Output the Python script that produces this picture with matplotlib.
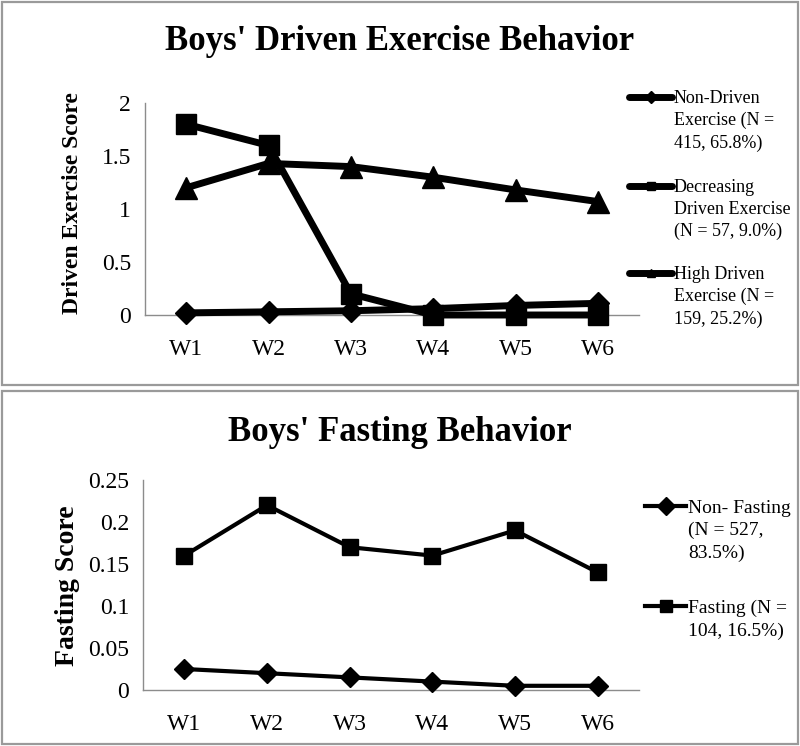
import matplotlib
matplotlib.use("Agg")
import matplotlib.pyplot as plt
from matplotlib.patches import Rectangle
from matplotlib.lines import Line2D

plt.rcParams['font.family'] = ['Liberation Serif', 'DejaVu Serif']

weeks = ["W1", "W2", "W3", "W4", "W5", "W6"]

# Top chart: Boys' Driven Exercise Behavior
ex_non_driven = [0.02, 0.03, 0.04, 0.06, 0.09, 0.11]
ex_decreasing = [1.80, 1.60, 0.20, 0.00, 0.00, 0.00]
ex_high = [1.20, 1.43, 1.40, 1.30, 1.18, 1.07]
ex_labels = ["Non-Driven\nExercise (N =\n415, 65.8%)",
             "Decreasing\nDriven Exercise\n(N = 57, 9.0%)",
             "High Driven\nExercise (N =\n159, 25.2%)"]
ex_yticks = [0, 0.5, 1, 1.5, 2]
ex_yticklabels = ["0", "0.5", "1", "1.5", "2"]

# Bottom chart: Boys' Fasting Behavior
fa_non = [0.025, 0.02, 0.015, 0.01, 0.005, 0.005]
fa_fasting = [0.16, 0.22, 0.17, 0.16, 0.19, 0.14]
fa_labels = ["Non- Fasting\n(N = 527,\n83.5%)", "Fasting (N =\n104, 16.5%)"]
fa_yticks = [0, 0.05, 0.1, 0.15, 0.2, 0.25]
fa_yticklabels = ["0", "0.05", "0.1", "0.15", "0.2", "0.25"]

W, H = 800, 746
fig = plt.figure(figsize=(W / 100, H / 100), dpi=100)


def fx(px):
    return px / W


def fy(py):
    return 1 - py / H


# panel borders
for (x0, y0, x1, y1) in [(1.5, 1.5, 797.5, 385), (1.5, 391, 797.5, 743.5)]:
    fig.patches.append(Rectangle((fx(x0), fy(y1)), fx(x1 - x0), (y1 - y0) / H,
                                 transform=fig.transFigure, fill=False,
                                 edgecolor="#9a9a9a", linewidth=1.6, zorder=0))

spine_col = "#8c8c8c"


def style_axes(ax, yticks, yticklabels, ymax):
    ax.set_xlim(-0.5, 5.5)
    ax.set_ylim(0, ymax)
    ax.set_xticks(range(len(weeks)))
    ax.set_xticklabels(weeks, fontsize=17)
    ax.set_yticks(yticks)
    ax.set_yticklabels(yticklabels, fontsize=17)
    ax.tick_params(length=0, pad=10)
    ax.tick_params(axis='x', pad=17)
    for s in ["top", "right"]:
        ax.spines[s].set_visible(False)
    for s in ["left", "bottom"]:
        ax.spines[s].set_color(spine_col)
        ax.spines[s].set_linewidth(1.0)
    ax.patch.set_alpha(0)


# ---- Top axes ----
ax1 = fig.add_axes([fx(145), fy(315), fx(639 - 145), (315 - 103) / H])
x = range(len(weeks))
ax1.plot(x, ex_non_driven, color="black", lw=5, marker="D", ms=11, clip_on=False, zorder=3)
ax1.plot(x, ex_decreasing, color="black", lw=5, marker="s", ms=15, clip_on=False, zorder=3)
ax1.plot(x, ex_high, color="black", lw=5, marker="^", ms=16, clip_on=False, zorder=3)
style_axes(ax1, ex_yticks, ex_yticklabels, 2)
fig.text(0.5, fy(42), "Boys' Driven Exercise Behavior", ha="center", va="center",
         fontsize=25, fontweight="bold")
fig.text(fx(73), fy(203), "Driven Exercise Score", rotation=90, ha="center",
         va="center", fontsize=17, fontweight="bold")

top_markers = ["D", "s", "^"]
top_y = [97, 186, 273]
for m, yy, lab in zip(top_markers, top_y, ex_labels):
    fig.lines.append(Line2D([fx(629), fx(672)], [fy(yy), fy(yy)], transform=fig.transFigure,
                            color="black", lw=5, solid_capstyle="round"))
    fig.lines.append(Line2D([fx(650.5)], [fy(yy)], transform=fig.transFigure,
                            color="black", marker=m, ms=6, lw=0))
    fig.text(fx(674), fy(yy - 7), lab, ha="left", va="top", fontsize=13,
             linespacing=1.38, transform=fig.transFigure)

# ---- Bottom axes ----
ax2 = fig.add_axes([fx(143), fy(690), fx(639 - 143), (690 - 480) / H])
ax2.plot(x, fa_non, color="black", lw=3, marker="D", ms=10, clip_on=False, zorder=3)
ax2.plot(x, fa_fasting, color="black", lw=3, marker="s", ms=12, clip_on=False, zorder=3)
style_axes(ax2, fa_yticks, fa_yticklabels, 0.25)
fig.text(0.5, fy(432), "Boys' Fasting Behavior", ha="center", va="center",
         fontsize=25, fontweight="bold")
fig.text(fx(68), fy(586), "Fasting Score", rotation=90, ha="center",
         va="center", fontsize=20, fontweight="bold")

bot_markers = ["D", "s"]
bot_y = [506, 606]
for m, yy, lab in zip(bot_markers, bot_y, fa_labels):
    fig.lines.append(Line2D([fx(645), fx(686)], [fy(yy), fy(yy)], transform=fig.transFigure,
                            color="black", lw=3))
    fig.lines.append(Line2D([fx(665.5)], [fy(yy)], transform=fig.transFigure,
                            color="black", marker=m, ms=9, lw=0))
    fig.text(fx(688), fy(yy - 6), lab, ha="left", va="top", fontsize=14,
             linespacing=1.38, transform=fig.transFigure)

fig.savefig("out.png", dpi=100)
